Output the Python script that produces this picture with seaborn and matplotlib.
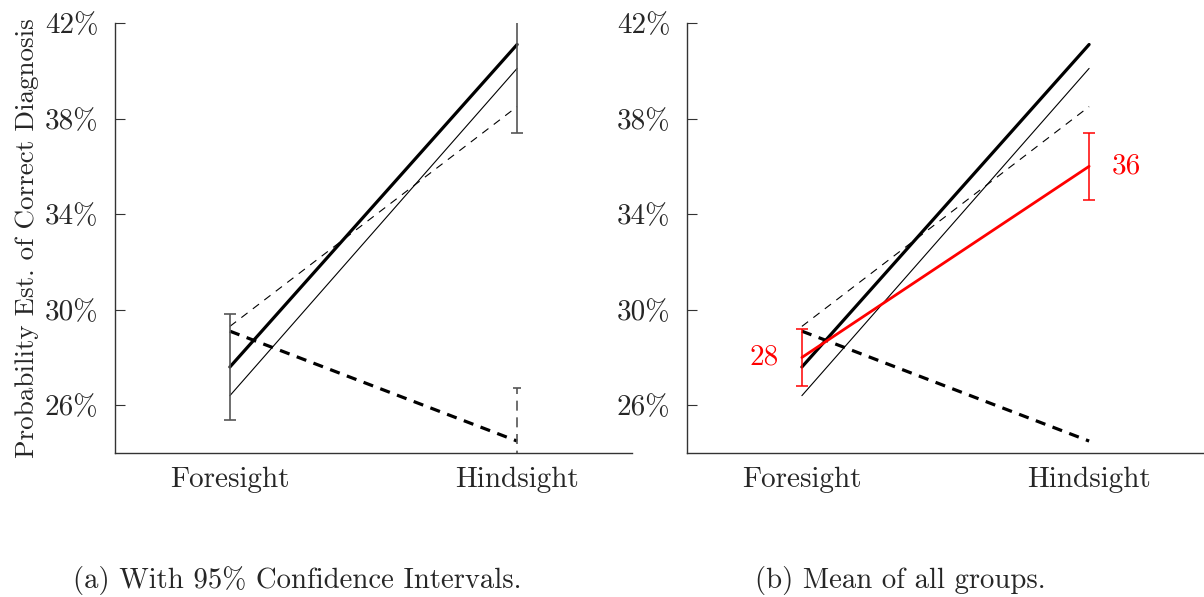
import matplotlib
matplotlib.use("Agg")
import matplotlib.pyplot as plt
import seaborn as sns
import pandas as pd

# Conditions on the x axis
conditions = ["Foresight", "Hindsight"]

# Estimated probability of correct diagnosis (%) per group
thick_solid = [27.6, 41.1]
thin_solid = [26.4, 40.1]
thin_dashed = [29.3, 38.5]
thick_dashed = [29.1, 24.5]
overall_mean = [28.0, 36.0]

# 95% confidence half-widths
thick_solid_ci = [2.2, 3.7]
thick_dashed_ci = [2.2, 2.2]
overall_mean_ci = [1.2, 1.4]

y_ticks = [26, 30, 34, 38, 42]
y_tick_labels = ["26%", "30%", "34%", "38%", "42%"]
captions = ["(a) With 95% Confidence Intervals.", "(b) Mean of all groups."]
y_label = "Probability Est. of Correct Diagnosis"

sns.set_theme(style="white")
plt.rcParams["font.family"] = ["cmr10", "DejaVu Serif"]
plt.rcParams["mathtext.fontset"] = "cm"
plt.rcParams["axes.unicode_minus"] = False
plt.rcParams["axes.formatter.use_mathtext"] = True

groups = {
    "thick_solid": (thick_solid, 2.3, None),
    "thin_solid": (thin_solid, 0.8, None),
    "thin_dashed": (thin_dashed, 0.8, (0, (7, 6))),
    "thick_dashed": (thick_dashed, 2.3, (0, (3.2, 2.4))),
}

frames = []
for name, (vals, _, _) in groups.items():
    frames.append(pd.DataFrame({"condition": conditions, "value": vals, "group": name}))
df = pd.concat(frames, ignore_index=True)

fig = plt.figure(figsize=(12.04, 5.97), dpi=100)
ax_a = fig.add_axes([115 / 1204, 1 - 453 / 597, 517 / 1204, 430 / 597])
ax_b = fig.add_axes([687 / 1204, 1 - 453 / 597, 517 / 1204, 430 / 597])

x_pos = list(range(len(conditions)))


def draw_groups(ax):
    for name, (vals, lw, dash) in groups.items():
        sub = df[df["group"] == name]
        sns.lineplot(data=sub, x="condition", y="value", ax=ax, color="black",
                     linewidth=lw, legend=False, errorbar=None, sort=False)
        line = ax.lines[-1]
        if dash is not None:
            line.set_linestyle(dash)
            line.set_dash_capstyle("butt")


def style_axes(ax):
    ax.set_xlim(-0.4, 1.4)
    ax.set_ylim(24, 42)
    ax.set_yticks(y_ticks)
    ax.set_yticklabels(y_tick_labels)
    ax.set_xticks(x_pos)
    ax.set_xticklabels(conditions)
    ax.set_xlabel("")
    ax.set_ylabel("")
    for side in ("top", "right"):
        ax.spines[side].set_visible(False)
    for side in ("left", "bottom"):
        ax.spines[side].set_color("#333333")
        ax.spines[side].set_linewidth(1.0)
    ax.tick_params(axis="y", direction="in", length=7, width=0.8, color="#333333",
                   labelsize=21, pad=12, left=True)
    ax.tick_params(axis="x", length=0, labelsize=21, pad=10)
    ax.grid(False)


# Panel (a): groups with confidence intervals
draw_groups(ax_a)
ax_a.errorbar(x_pos, thick_solid, yerr=thick_solid_ci, fmt="none",
              ecolor="#555555", elinewidth=1.2, capsize=4, capthick=1.2)
eb2 = ax_a.errorbar(x_pos[1:], thick_dashed[1:], yerr=thick_dashed_ci[1:], fmt="none",
                    ecolor="#555555", elinewidth=1.2, capsize=3, capthick=1.2)
for coll in eb2[2]:
    coll.set_linestyle((0, (6, 4)))
style_axes(ax_a)
ax_a.set_ylabel(y_label, fontsize=19.5, labelpad=4)

# Panel (b): groups plus the overall mean
draw_groups(ax_b)
mean_df = pd.DataFrame({"condition": conditions, "value": overall_mean})
sns.lineplot(data=mean_df, x="condition", y="value", ax=ax_b, color="red",
             linewidth=2.0, legend=False, errorbar=None, sort=False)
ax_b.errorbar(x_pos, overall_mean, yerr=overall_mean_ci, fmt="none",
              ecolor="red", elinewidth=1.1, capsize=4, capthick=1.1)
style_axes(ax_b)
ax_b.text(x_pos[0] - 0.08, overall_mean[0], f"{overall_mean[0]:.0f}", color="red",
          fontsize=21, ha="right", va="center")
ax_b.text(x_pos[1] + 0.08, overall_mean[1], f"{overall_mean[1]:.0f}", color="red",
          fontsize=21, ha="left", va="center")

fig.text(297 / 1204, 1 - 580 / 597, captions[0], fontsize=20.7, ha="center", va="center")
fig.text(900 / 1204, 1 - 580 / 597, captions[1], fontsize=20.7, ha="center", va="center")

fig.savefig("out.png", dpi=100)
